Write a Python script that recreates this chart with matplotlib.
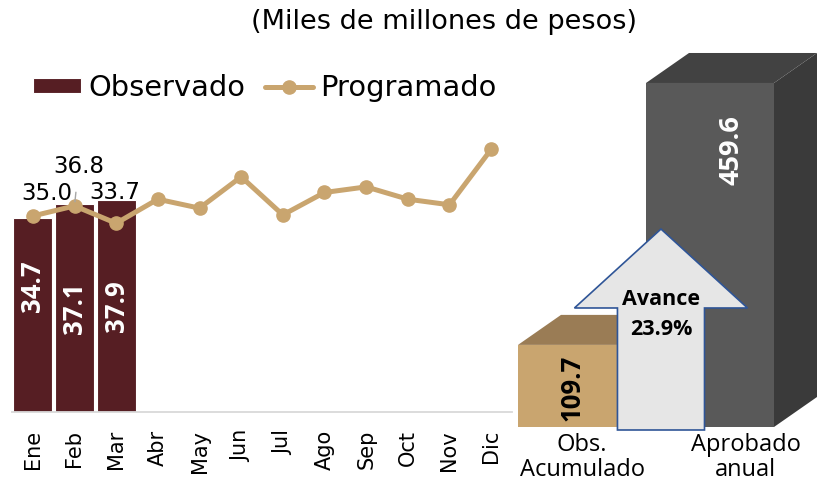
import matplotlib
matplotlib.use("Agg")
import matplotlib.pyplot as plt
from matplotlib.patches import Polygon
import numpy as np

# ---------------- data ----------------
months = ["Ene", "Feb", "Mar", "Abr", "May", "Jun", "Jul", "Ago", "Sep", "Oct", "Nov", "Dic"]
observado = [34.7, 37.1, 37.9]
programado = [35.0, 36.8, 33.7, 38.0, 36.4, 42.0, 35.2, 39.2, 40.2, 38.0, 37.0, 46.9]
resumen_labels = ["Obs.\nAcumulado", "Aprobado\nanual"]
resumen_values = [109.7, 459.6]
title = "(Miles de millones de pesos)"

# ---------------- styles ----------------
W, H = 823, 484
DPI = 100
MAROON = "#561E23"
TAN = "#C9A56F"
TAN_TOP = "#9A7C55"
DARK_FRONT = "#595959"
DARK_TOP = "#424242"
DARK_SIDE = "#3A3A3A"
ARROW_FILL = "#E6E6E6"
ARROW_EDGE = "#2F5597"

fig = plt.figure(figsize=(W / DPI, H / DPI), dpi=DPI)
fig.patch.set_facecolor("white")

def px_box(x0, y0_top, w, h):
    """axes rect from pixel coordinates (y measured from top)"""
    return [x0 / W, (H - y0_top - h) / H, w / W, h / H]

# ---------------- left chart ----------------
ymax = 50
px_per_unit = 5.6
ax = fig.add_axes(px_box(12, 412 - ymax * px_per_unit, 500, ymax * px_per_unit))
x = np.arange(len(months))
bars = ax.bar(x[:len(observado)], observado, width=0.94, color=MAROON,
              edgecolor="white", linewidth=0.8, label="Observado", zorder=2)
line, = ax.plot(x, programado, color=TAN, lw=3.6, marker="o", ms=9.5,
                label="Programado", zorder=3, solid_capstyle="round")
ax.set_xlim(-0.5, len(months) - 0.5)
ax.set_ylim(0, ymax)
ax.set_yticks([])
for s in ["top", "right", "left"]:
    ax.spines[s].set_visible(False)
ax.spines["bottom"].set_color("#D9D9D9")
ax.spines["bottom"].set_linewidth(1.3)
ax.set_xticks(x)
ax.set_xticklabels(months, rotation=90, fontsize=15, family="DejaVu Sans")
ax.tick_params(axis="x", length=0, pad=13)

# bar value labels (white, vertical)
label_frac = [0.65, 0.5, 0.5]
for i, v in enumerate(observado):
    ax.text(i, v * label_frac[i], f"{v:.1f}", rotation=90, ha="center", va="center",
            color="white", fontsize=18.5, fontweight="bold", family="Open Sans", zorder=4)

# line value labels for observed months
offsets = [(14, 23), (4, 39), (-1, 31)]
for i in range(len(observado)):
    dx, dy = offsets[i]
    kw = {}
    if i == 1:
        kw["arrowprops"] = dict(arrowstyle="-", color="#A6A6A6", lw=1, shrinkA=8, shrinkB=3)
    ax.annotate(f"{programado[i]:.1f}", (i, programado[i]), xytext=(dx, dy),
                textcoords="offset pixels", ha="center", va="center", fontsize=16.5,
                family="DejaVu Sans", zorder=5, **kw)

# legend
fig.legend(handles=[bars, line], labels=["Observado", "Programado"],
           loc="center left", bbox_to_anchor=(33 / W, (H - 88) / H),
           ncol=2, frameon=False, prop={"family": "DejaVu Sans", "size": 20.8},
           handlelength=1.65, handletextpad=0.25, columnspacing=0.7,
           borderaxespad=0, borderpad=0, handleheight=0.45)

# title
fig.text(444 / W, (H - 22) / H, title, ha="center", va="center", fontsize=19.5,
         family="DejaVu Sans")

# ---------------- right chart (pseudo 3D) ----------------
ymax2 = 500
ppu2 = 0.7485           # px per unit (y)
ppx2 = 128.0            # px per category (x)
xlo, xhi = -0.6, 1.85
ax2 = fig.add_axes(px_box(582 + xlo * ppx2, 427 - ymax2 * ppu2,
                          (xhi - xlo) * ppx2, ymax2 * ppu2))
ax2.set_xlim(xlo, xhi)
ax2.set_ylim(0, ymax2)
ax2.axis("off")

depth_dx = 43 / ppx2
depth_dy = 30 / ppu2
bw = 1.0
faces = [(TAN, TAN_TOP, TAN), (DARK_FRONT, DARK_TOP, DARK_SIDE)]
for i, v in enumerate(resumen_values):
    front_c, top_c, side_c = faces[i]
    x0, x1 = i - bw / 2, i + bw / 2
    front = Polygon([(x0, 0), (x1, 0), (x1, v), (x0, v)], closed=True,
                    facecolor=front_c, edgecolor="none", clip_on=False, zorder=2)
    top = Polygon([(x0, v), (x1, v), (x1 + depth_dx, v + depth_dy), (x0 + depth_dx, v + depth_dy)],
                  closed=True, facecolor=top_c, edgecolor="none", clip_on=False, zorder=2)
    side = Polygon([(x1, 0), (x1 + depth_dx, depth_dy), (x1 + depth_dx, v + depth_dy), (x1, v)],
                   closed=True, facecolor=side_c, edgecolor="none", clip_on=False, zorder=2)
    ax2.add_patch(side)
    ax2.add_patch(top)
    ax2.add_patch(front)

# value labels
ax2.text(-0.08, resumen_values[0] * 0.475, f"{resumen_values[0]:.1f}", rotation=90,
         ha="center", va="center", fontsize=18.5, fontweight="bold", family="Open Sans",
         color="black", zorder=6)
ax2.text(1 + depth_dx / 2, resumen_values[1] * 0.805, f"{resumen_values[1]:.1f}", rotation=90,
         ha="center", va="center", fontsize=19.5, fontweight="bold", family="Open Sans",
         color="white", zorder=6)

# arrow "Avance"
acx = 0.617
shaft = 0.34
head = 0.676
y_bot, y_base, y_tip = -4, 159, 264.5
arrow = Polygon([(acx - shaft, y_bot), (acx + shaft, y_bot), (acx + shaft, y_base),
                 (acx + head, y_base), (acx, y_tip), (acx - head, y_base),
                 (acx - shaft, y_base)], closed=True, facecolor=ARROW_FILL,
                edgecolor=ARROW_EDGE, lw=1.2, clip_on=False, zorder=5)
ax2.add_patch(arrow)
avance = resumen_values[0] / resumen_values[1] * 100
ax2.text(acx, 170, "Avance", ha="center", va="center", fontsize=15.5,
         fontweight="bold", family="Open Sans", zorder=7)
ax2.text(acx, 130, f"{avance:.1f}%", ha="center", va="center", fontsize=15.5,
         fontweight="bold", family="Open Sans", zorder=7)

# category labels
label_x = [0.0, 1.28]
for i, lab in enumerate(resumen_labels):
    ax2.text(label_x[i], -8, lab, ha="center", va="top", fontsize=17,
             family="Open Sans", linespacing=1.05, clip_on=False)

fig.savefig("out.png", dpi=DPI, facecolor="white")
